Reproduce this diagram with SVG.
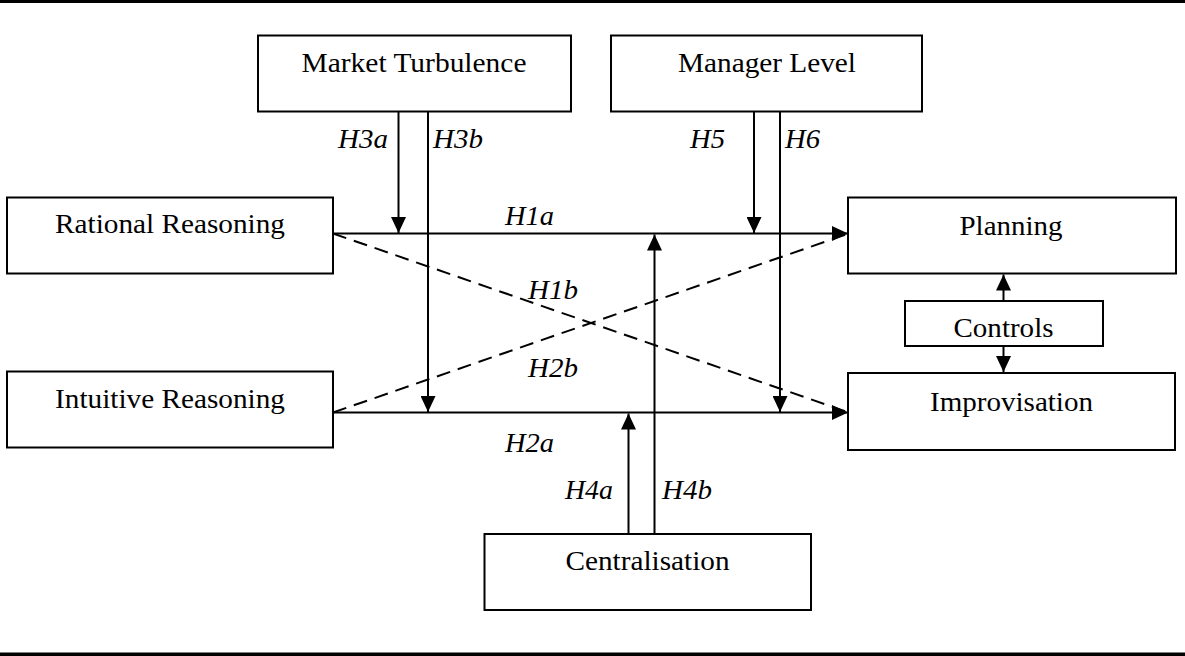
<svg xmlns="http://www.w3.org/2000/svg" width="1185" height="656" viewBox="0 0 1185 656">
<style>
.box{fill:#fff;stroke:#000;stroke-width:2}
.t{font-family:"Liberation Serif","Times New Roman",serif;font-size:28px;fill:#000;text-anchor:middle}
.l{font-family:"Liberation Serif","Times New Roman",serif;font-size:28px;font-style:italic;fill:#000}
.c{stroke:#000;stroke-width:2;fill:none}
.d{stroke:#000;stroke-width:2;fill:none;stroke-dasharray:14,8}
</style>
<defs>
<marker id="ah" markerUnits="userSpaceOnUse" markerWidth="16" markerHeight="15" refX="16" refY="7.5" orient="auto">
<path d="M0,0 L16,7.5 L0,15 z" fill="#000"/>
</marker>
</defs>
<rect x="0" y="0" width="1185" height="3" fill="#000"/>
<rect x="0" y="652.5" width="1185" height="3.5" fill="#000"/>
<g id="connectors">
<line class="d" x1="333" y1="412.5" x2="846" y2="234.5"/>
<line class="d" x1="333" y1="233.5" x2="846" y2="411.5"/>
<line class="c" x1="333" y1="233.5" x2="848" y2="233.5" marker-end="url(#ah)"/>
<line class="c" x1="333" y1="412.5" x2="848" y2="412.5" marker-end="url(#ah)"/>
<line class="c" x1="398.5" y1="111.5" x2="398.5" y2="233" marker-end="url(#ah)"/>
<line class="c" x1="428" y1="111.5" x2="428" y2="412" marker-end="url(#ah)"/>
<line class="c" x1="754" y1="111.5" x2="754" y2="233" marker-end="url(#ah)"/>
<line class="c" x1="780" y1="111.5" x2="780" y2="412" marker-end="url(#ah)"/>
<line class="c" x1="628.5" y1="534" x2="628.5" y2="413.5" marker-end="url(#ah)"/>
<line class="c" x1="654.5" y1="534" x2="654.5" y2="234.5" marker-end="url(#ah)"/>
<line class="c" x1="1003.5" y1="301" x2="1003.5" y2="274.5" marker-end="url(#ah)"/>
<line class="c" x1="1003.5" y1="346" x2="1003.5" y2="372" marker-end="url(#ah)"/>
<text class="l" x="338" y="148" textLength="50" lengthAdjust="spacingAndGlyphs">H3a</text>
<text class="l" x="433" y="148" textLength="50" lengthAdjust="spacingAndGlyphs">H3b</text>
<text class="l" x="690" y="148" textLength="35" lengthAdjust="spacingAndGlyphs">H5</text>
<text class="l" x="785" y="148" textLength="35" lengthAdjust="spacingAndGlyphs">H6</text>
<text class="l" x="505" y="225" textLength="49" lengthAdjust="spacingAndGlyphs">H1a</text>
<text class="l" x="528" y="298.5" textLength="50" lengthAdjust="spacingAndGlyphs">H1b</text>
<text class="l" x="528" y="376.5" textLength="50" lengthAdjust="spacingAndGlyphs">H2b</text>
<text class="l" x="505" y="451.5" textLength="49" lengthAdjust="spacingAndGlyphs">H2a</text>
<text class="l" x="565" y="499" textLength="48" lengthAdjust="spacingAndGlyphs">H4a</text>
<text class="l" x="662" y="499" textLength="50" lengthAdjust="spacingAndGlyphs">H4b</text>
</g>
<g id="market-turbulence">
<rect class="box" x="258" y="35.5" width="313" height="76"/>
<text class="t" x="414" y="71.7" textLength="225" lengthAdjust="spacingAndGlyphs">Market Turbulence</text>
</g>
<g id="manager-level">
<rect class="box" x="611" y="35.5" width="311" height="76"/>
<text class="t" x="767" y="72" textLength="178" lengthAdjust="spacingAndGlyphs">Manager Level</text>
</g>
<g id="rational-reasoning">
<rect class="box" x="7" y="197.5" width="326" height="76"/>
<text class="t" x="170" y="233.3" textLength="230" lengthAdjust="spacingAndGlyphs">Rational Reasoning</text>
</g>
<g id="intuitive-reasoning">
<rect class="box" x="7" y="371.5" width="326" height="76"/>
<text class="t" x="170" y="408.3" textLength="230" lengthAdjust="spacingAndGlyphs">Intuitive Reasoning</text>
</g>
<g id="planning">
<rect class="box" x="848" y="197.5" width="328" height="76"/>
<text class="t" x="1011" y="235" textLength="103" lengthAdjust="spacingAndGlyphs">Planning</text>
</g>
<g id="controls">
<rect class="box" x="905" y="301" width="198" height="45"/>
<text class="t" x="1003.5" y="336.7" textLength="100" lengthAdjust="spacingAndGlyphs">Controls</text>
</g>
<g id="improvisation">
<rect class="box" x="848" y="373" width="327" height="77"/>
<text class="t" x="1011.5" y="410.7" textLength="163" lengthAdjust="spacingAndGlyphs">Improvisation</text>
</g>
<g id="centralisation">
<rect class="box" x="484.5" y="534" width="326.5" height="76"/>
<text class="t" x="647.5" y="570" textLength="164" lengthAdjust="spacingAndGlyphs">Centralisation</text>
</g>
</svg>
